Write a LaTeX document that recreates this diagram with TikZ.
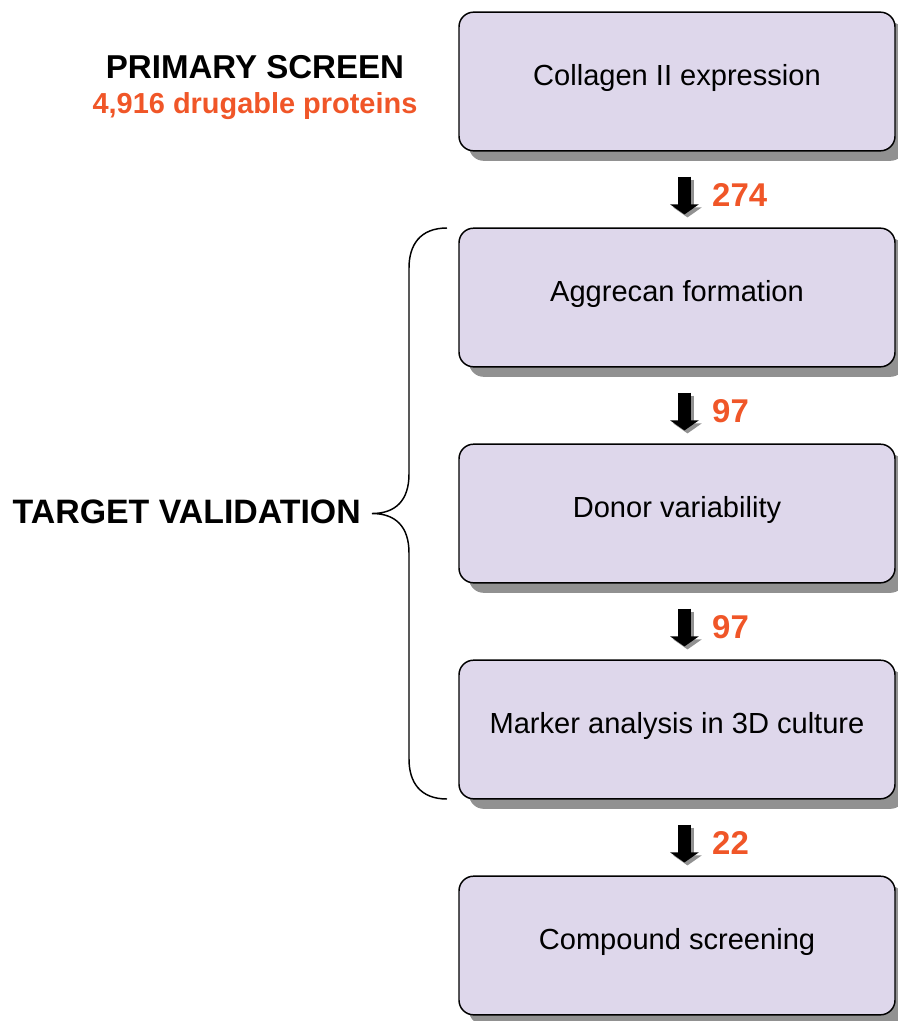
\documentclass[tikz,border=0pt]{standalone}
\usepackage{fontspec}
\setmainfont{Liberation Sans}
\usetikzlibrary{arrows.meta, shadows}

\definecolor{boxfill}{RGB}{222,215,235}
\definecolor{countorange}{RGB}{240,86,40}
\definecolor{shadowgray}{RGB}{145,145,145}

\tikzset{
  stepbox/.style = {draw, line width=1.1pt, rounded corners=11pt, fill=boxfill,
    minimum width=327pt, minimum height=104pt, text height=0.85em, text depth=0.2em,
    font=\fontsize{21.8}{26}\selectfont,
    drop shadow={shadow xshift=7.5pt, shadow yshift=-7.5pt, fill=shadowgray, opacity=1}},
  flowarrow/.style = {line width=9.75pt, -{Triangle[width=21pt, length=7.5pt]}},
  countlabel/.style = {anchor=west, inner sep=0pt, text=countorange,
    font=\fontsize{24.7}{28}\selectfont\bfseries},
  heading/.style = {inner sep=0pt, font=\fontsize{24.8}{28}\selectfont\bfseries}
}

\begin{document}
\begin{tikzpicture}[x=0.75pt, y=0.75pt]
\useasboundingbox (0,0) rectangle (898,-1021);

% steps of the screen
\node[stepbox] (collagen) at (677,-81.5) {Collagen II expression};
\node[stepbox] (aggrecan) at (677,-297.5) {Aggrecan formation};
\node[stepbox] (donor) at (677,-513.5) {Donor variability};
\node[stepbox] (marker) at (677,-729.5) {Marker analysis in 3D culture};
\node[stepbox] (compound) at (677,-945.5) {Compound screening};

% block arrows with counts
\foreach \from/\to/\num in {collagen/aggrecan/274, aggrecan/donor/97, donor/marker/97, marker/compound/22} {
  \coordinate (\from-out) at ([xshift=5.6pt, yshift=-18.75pt]\from.south);
  \coordinate (\to-in) at ([xshift=5.6pt, yshift=9.75pt]\to.north);
  \draw[flowarrow, shadowgray] ([xshift=2.25pt, yshift=-2.25pt]\from-out) -- ([xshift=2.25pt, yshift=-2.25pt]\to-in);
  \draw[flowarrow, black] (\from-out) -- (\to-in);
  \node[countlabel] (count-\from) at ([xshift=20.6pt, yshift=-14pt]\from-out) {\num};
}

% headings
\node[heading] (primary) at (255,-67) {PRIMARY SCREEN};
\node[heading, text=countorange, font=\fontsize{21.7}{26}\selectfont\bfseries] (proteins) at (255,-106) {4,916 drugable proteins};
\node[heading, anchor=east, font=\fontsize{25.4}{28}\selectfont\bfseries] (target) at (361,-512) {TARGET VALIDATION};

% brace
\draw[line width=1.1pt] (447,-228) .. controls (420,-228) and (409,-245) .. (409,-268)
  -- (409,-474) .. controls (409,-500) and (396,-513.5) .. (372,-513.5)
  .. controls (396,-513.5) and (409,-527) .. (409,-553)
  -- (409,-759) .. controls (409,-782) and (420,-799) .. (447,-799);
\end{tikzpicture}
\end{document}
